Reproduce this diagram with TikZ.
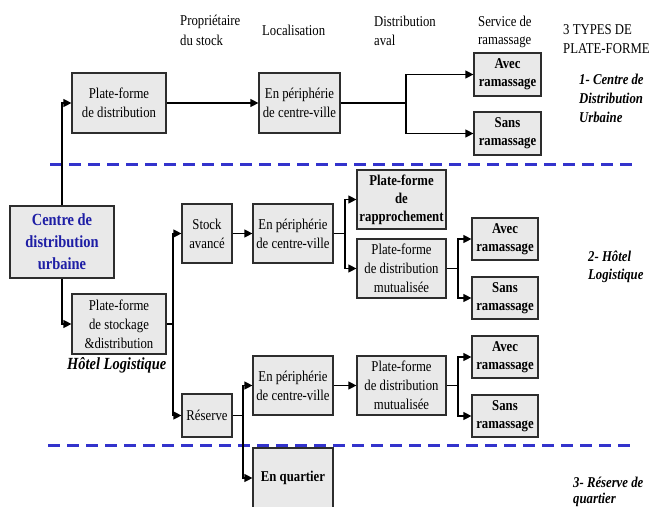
\documentclass[tikz,border=0pt]{standalone}
\usepackage{fontspec}
\setmainfont{Liberation Serif}[FakeStretch=0.85]
\usetikzlibrary{arrows.meta}
\definecolor{dashblue}{RGB}{51,51,204}
\definecolor{txtblue}{RGB}{30,30,165}
\definecolor{boxfill}{RGB}{233,233,233}
\definecolor{boxline}{RGB}{45,45,45}
\begin{document}
\begin{tikzpicture}[x=1pt,y=-1pt,
  bx/.style={draw=boxline, fill=boxfill, line width=1.2pt, inner sep=1pt, align=center,
    font=\fontsize{15}{19}\selectfont},
  bbx/.style={bx, font=\fontsize{15}{18}\selectfont\bfseries},
  arr/.style={line width=1.2pt, -{Triangle[length=8pt,width=8pt]}},
  ln/.style={line width=1.2pt},
  lbl/.style={anchor=base west, inner sep=0pt, font=\fontsize{15}{19}\selectfont},
  tlbl/.style={lbl, font=\fontsize{15}{19}\selectfont\bfseries\itshape},
  dashline/.style={dashblue, line width=3pt, dash pattern=on 12pt off 7pt}
]
\useasboundingbox (0,0) rectangle (653,506);
\begin{scope}
\clip (0,0) rectangle (653,506);
% dashed separators
\draw[dashline] (50,164) -- (633,164);
\draw[dashline] (48,445) -- (633,445);

% headers
\node[lbl] (h1a) at (180,25) {Propriétaire};
\node[lbl] (h1b) at (180,45) {du stock};
\node[lbl] (h2) at (262,35) {Localisation};
\node[lbl] (h3a) at (374,26) {Distribution};
\node[lbl] (h3b) at (374,45) {aval};
\node[lbl] (h4a) at (478,26) {Service de};
\node[lbl] (h4b) at (478,44) {ramassage};
\node[lbl] (h5a) at (563,34) {3 TYPES DE};
\node[lbl] (h5b) at (563,53) {PLATE-FORME};

% right titles
\node[tlbl] (t1a) at (579,84) {1- Centre de};
\node[tlbl] (t1b) at (579,103) {Distribution};
\node[tlbl] (t1c) at (579,122) {Urbaine};
\node[tlbl] (t2a) at (588,261) {2- Hôtel};
\node[tlbl] (t2b) at (588,279) {Logistique};
\node[tlbl] (t3a) at (573,487) {3- Réserve de};
\node[tlbl] (t3b) at (573,503) {quartier};
\node[tlbl, font=\fontsize{17}{19}\selectfont\bfseries\itshape] (hl) at (67,369) {Hôtel Logistique};

% boxes
\node[bx, minimum width=104pt, minimum height=72pt, text=txtblue,
  font=\fontsize{17}{22}\selectfont\bfseries] (cdu) at (62,242) {Centre de\\distribution\\urbaine};
\node[bx, minimum width=94pt, minimum height=60pt] (pfd) at (119,103) {Plate-forme\\de distribution};
\node[bx, minimum width=81pt, minimum height=60pt] (per1) at (299.5,103) {En périphérie\\de centre-ville};
\node[bbx, minimum width=67pt, minimum height=43pt] (av1) at (507.5,74.5) {Avec\\ramassage};
\node[bbx, minimum width=67pt, minimum height=43pt] (sa1) at (507.5,133.5) {Sans\\ramassage};

\node[bx, minimum width=94pt, minimum height=60pt] (pfs) at (119,324) {Plate-forme\\de stockage\\\&distribution};
\node[bx, minimum width=50pt, minimum height=59pt] (stk) at (207,233.5) {Stock\\avancé};
\node[bx, minimum width=80pt, minimum height=59pt] (per2) at (293,233.5) {En périphérie\\de centre-ville};
\node[bbx, minimum width=89pt, minimum height=59pt] (rap) at (401.5,199.5) {Plate-forme\\de\\rapprochement};
\node[bx, minimum width=89pt, minimum height=59pt] (mut2) at (401.5,268.5) {Plate-forme\\de distribution\\mutualisée};
\node[bbx, minimum width=66pt, minimum height=42pt] (av2) at (505,239) {Avec\\ramassage};
\node[bbx, minimum width=66pt, minimum height=42pt] (sa2) at (505,298) {Sans\\ramassage};

\node[bx, minimum width=50pt, minimum height=43pt] (res) at (207,415.5) {Réserve};
\node[bx, minimum width=80pt, minimum height=59pt] (per3) at (293,385.5) {En périphérie\\de centre-ville};
\node[bx, minimum width=89pt, minimum height=59pt] (mut3) at (401.5,385.5) {Plate-forme\\de distribution\\mutualisée};
\node[bbx, minimum width=66pt, minimum height=42pt] (av3) at (505,357) {Avec\\ramassage};
\node[bbx, minimum width=66pt, minimum height=42pt] (sa3) at (505,416) {Sans\\ramassage};
\node[bbx, minimum width=80pt, minimum height=60pt] (quart) at (293,478) {En quartier};

% junctions
\coordinate (j1) at (406,103);
\coordinate (j2) at (173,324);
\coordinate (j3) at (345,233.5);
\coordinate (j4) at (458,268.5);
\coordinate (j5) at (243,415.5);
\coordinate (j6) at (458,385.5);

% connectors
\draw[arr] (cdu.north) |- (pfd.west);
\draw[arr] (cdu.south) |- (pfs.west);
\draw[arr] (pfd) -- (per1);
\draw[ln] (per1.east) -- (j1);
\draw[arr] (j1) |- (av1.west);
\draw[arr] (j1) |- (sa1.west);

\draw[ln] (pfs.east) -- (j2);
\draw[arr] (j2) |- (stk.west);
\draw[arr] (j2) |- (res.west);
\draw[arr] (stk) -- (per2);
\draw[ln] (per2.east) -- (j3);
\draw[arr] (j3) |- (rap.west);
\draw[arr] (j3) |- (mut2.west);
\draw[ln] (mut2.east) -- (j4);
\draw[arr] (j4) |- (av2.west);
\draw[arr] (j4) |- (sa2.west);

\draw[ln] (res.east) -- (j5);
\draw[arr] (j5) |- (per3.west);
\draw[arr] (j5) |- (quart.west);
\draw[arr] (per3) -- (mut3);
\draw[ln] (mut3.east) -- (j6);
\draw[arr] (j6) |- (av3.west);
\draw[arr] (j6) |- (sa3.west);
\end{scope}
\end{tikzpicture}
\end{document}
